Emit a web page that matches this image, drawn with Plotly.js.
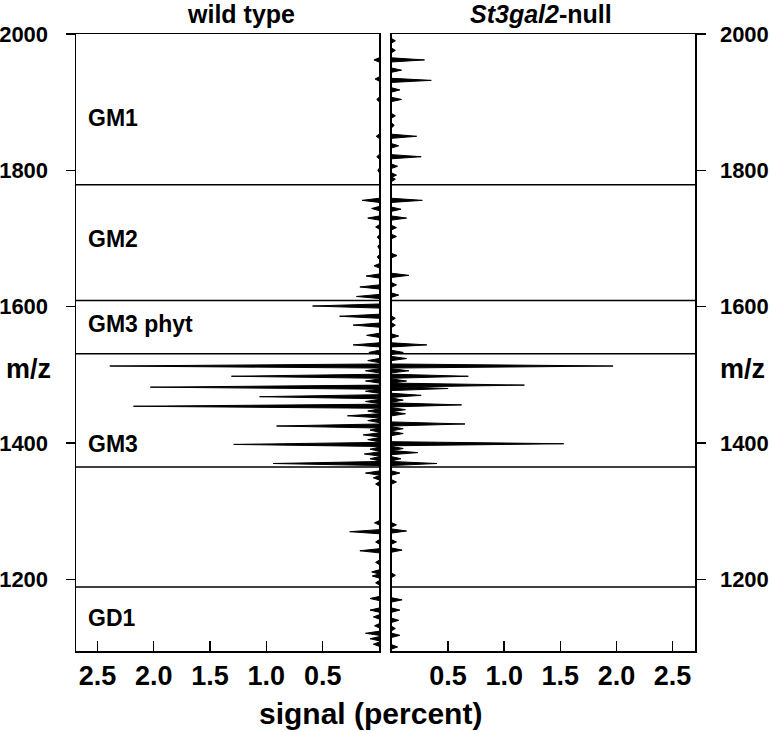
<!DOCTYPE html>
<html>
<head>
<meta charset="utf-8">
<script src="https://cdn.plot.ly/plotly-3.0.1.min.js"></script>
<style>html,body{margin:0;padding:0;background:#fff;}#chart{width:772px;height:732px;}</style>
</head>
<body>
<div id="chart"></div>
<script>
// ---- data (peak apex m/z and signal in percent) ----
const wtMz = [1962,1934,1904,1850,1820,1800,
  1756,1744,1730,1717,1702,1688,1673,1660,1645,1629,1615,
  1601,1586,1573,1558,1544,1533,
  1521,1513,1506,1498,1491,1482,1476,1468,1461,1454,1447,1440,1433,1425,1419,1412,1405,1398,1391,1384,1377,1370,
  1356,1349,1340,1283,1270,1255,1242,1225,1211,1205,1195,
  1172,1155,1145,1132,1121,1113,1105];
const wtSignal = [0.045,0.035,0.02,0.025,0.02,0.01,
  0.15,0.065,0.10,0.03,0.015,0.01,0.015,0.045,0.115,0.17,0.20,
  0.59,0.35,0.23,0.11,0.23,0.09,
  0.10,2.39,0.12,1.31,0.12,2.03,0.12,1.06,0.12,2.18,0.10,0.28,0.10,0.91,0.08,0.14,0.10,1.29,0.08,0.13,0.08,0.94,
  0.12,0.05,0.03,0.04,0.26,0.03,0.17,0.03,0.065,0.06,0.03,
  0.08,0.08,0.05,0.04,0.12,0.08,0.05];

const nullMz = [1990,1976,1962,1947,1932,1918,1904,1880,1866,1850,1836,1820,1806,1793,1787,
  1756,1743,1730,1716,1703,1675,1646,1632,1617,
  1583,1573,1557,1544,1533,
  1524,1513,1506,1498,1491,1485,1480,1470,1463,1456,1449,1443,1428,1421,1414,1399,1392,1386,1377,1370,
  1356,1343,1280,1271,1255,1243,1206,
  1170,1155,1140,1128,1118,1101];
const nullSignal = [0.03,0.03,0.29,0.085,0.35,0.07,0.085,0.03,0.02,0.22,0.06,0.26,0.05,0.04,0.03,
  0.27,0.08,0.13,0.04,0.04,0.045,0.15,0.04,0.06,
  0.03,0.03,0.06,0.31,0.10,
  0.13,1.97,0.15,0.68,0.13,1.18,0.50,0.26,0.10,0.62,0.12,0.12,0.65,0.10,0.10,1.53,0.10,0.23,0.08,0.40,
  0.07,0.04,0.04,0.13,0.04,0.09,0.03,
  0.09,0.07,0.06,0.03,0.07,0.05];

const boundaries = [1779, 1609, 1531, 1365, 1189];
const regionLabels = ['GM1', 'GM2', 'GM3 phyt', 'GM3', 'GD1'];
const regionLabelMz = [1877, 1699, 1575, 1399, 1144];
const xTickVals = [0.5, 1.0, 1.5, 2.0, 2.5];
const xTickText = ['0.5', '1.0', '1.5', '2.0', '2.5'];
const yTickVals = [1200, 1400, 1600, 1800, 2000];
const panelTitles = ['wild type', '<i>St3gal2</i>-null'];

// ---- drawing ----
const HALF = 3; // half base width of a drawn peak, in m/z units (style)
function spikes(mz, sig) {
  const xs = [], ys = [];
  for (let i = 0; i < mz.length; i++) {
    xs.push(0, sig[i], 0, null);
    ys.push(mz[i] - HALF, mz[i], mz[i] + HALF, null);
  }
  return {xs, ys};
}
const wt = spikes(wtMz, wtSignal);
const nl = spikes(nullMz, nullSignal);

const traceStyle = {type: 'scatter', mode: 'lines', fill: 'toself', fillcolor: '#000',
  line: {color: '#000', width: 1}, hoverinfo: 'skip', showlegend: false, connectgaps: false};

const data = [
  Object.assign({}, traceStyle, {x: wt.xs, y: wt.ys, xaxis: 'x', yaxis: 'y'}),
  Object.assign({}, traceStyle, {x: nl.xs, y: nl.ys, xaxis: 'x2', yaxis: 'y2'})
];

const FONT = 'Liberation Sans, Arial, sans-serif';
const NARROW = 'Liberation Sans Narrow, Arial Narrow, Liberation Sans, Arial, sans-serif';
const axisCommon = {showline: true, mirror: true, linecolor: '#000', linewidth: 1.5,
  showgrid: false, zeroline: false, tickcolor: '#000', tickwidth: 1.5};
const xCommon = Object.assign({}, axisCommon, {tickvals: xTickVals, ticktext: xTickText,
  ticks: 'inside', ticklen: 10, ticklabelstandoff: 0,
  tickfont: {family: NARROW, size: 27, color: '#000', weight: 'bold'}});
const yCommon = Object.assign({}, axisCommon, {range: [1095, 2000], tickvals: yTickVals,
  ticks: 'outside', ticklen: 9,
  tickfont: {family: FONT, size: 22, color: '#000', weight: 'bold'}});

const shapes = [];
boundaries.forEach(b => {
  shapes.push({type: 'line', xref: 'x domain', yref: 'y', x0: 0, x1: 1, y0: b, y1: b,
    line: {color: '#000', width: 1.5}});
  shapes.push({type: 'line', xref: 'x2 domain', yref: 'y2', x0: 0, x1: 1, y0: b, y1: b,
    line: {color: '#000', width: 1.5}});
});

const bold = (size) => ({family: FONT, size: size, color: '#000', weight: 'bold'});
const annotations = [];
regionLabels.forEach((t, i) => {
  annotations.push({text: t, xref: 'paper', yref: 'y', x: 0.016, y: regionLabelMz[i],
    xanchor: 'left', yanchor: 'middle', showarrow: false, font: bold(23)});
});
annotations.push({text: panelTitles[0], xref: 'paper', yref: 'paper', x: 0.2666, y: 1.0324,
  xanchor: 'center', yanchor: 'middle', showarrow: false, font: bold(25)});
annotations.push({text: panelTitles[1], xref: 'paper', yref: 'paper', x: 0.751, y: 1.0324,
  xanchor: 'center', yanchor: 'middle', showarrow: false, font: bold(25)});
annotations.push({text: 'm/z', xref: 'paper', yref: 'y', x: -0.077, y: 1508,
  xanchor: 'center', yanchor: 'middle', showarrow: false, font: bold(27)});
annotations.push({text: 'm/z', xref: 'paper', yref: 'y', x: 1.077, y: 1508,
  xanchor: 'center', yanchor: 'middle', showarrow: false, font: bold(27)});
annotations.push({text: 'signal (percent)', xref: 'paper', yref: 'paper', x: 0.475, y: -0.102,
  xanchor: 'center', yanchor: 'middle', showarrow: false, font: bold(30)});

const layout = {
  width: 772, height: 732,
  margin: {l: 76, r: 77, t: 34, b: 81},
  paper_bgcolor: '#fff', plot_bgcolor: '#fff',
  font: {family: FONT, color: '#000'},
  showlegend: false,
  xaxis: Object.assign({}, xCommon, {domain: [0, 0.4895], range: [2.69, 0], anchor: 'y'}),
  yaxis: Object.assign({}, yCommon, {anchor: 'x', side: 'left', ticklabelstandoff: 13}),
  xaxis2: Object.assign({}, xCommon, {domain: [0.5105, 1], range: [0, 2.70], anchor: 'y2'}),
  yaxis2: Object.assign({}, yCommon, {anchor: 'x2', side: 'right', ticklabelstandoff: 10}),
  shapes: shapes,
  annotations: annotations
};

Plotly.newPlot('chart', data, layout, {displayModeBar: false, staticPlot: true});
</script>
</body>
</html>
